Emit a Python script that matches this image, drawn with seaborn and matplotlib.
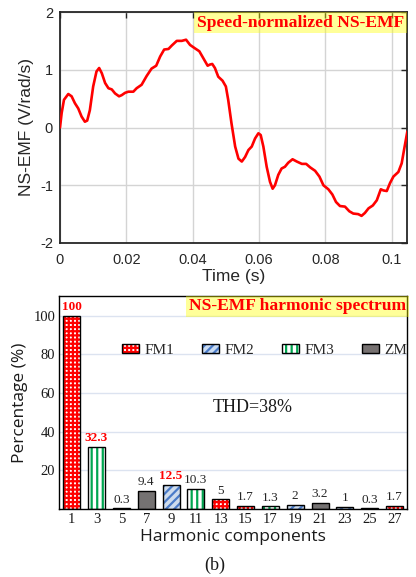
import numpy as np
import pandas as pd
import matplotlib
matplotlib.use("Agg")
import matplotlib.pyplot as plt
import seaborn as sns
from matplotlib.patches import Patch
from matplotlib.legend_handler import HandlerTuple
from matplotlib.ticker import FuncFormatter

# ---------------- data ----------------
time_s = [0.0, 0.0005, 0.0012, 0.0025, 0.0035, 0.0045, 0.0055, 0.0065, 0.0075, 0.0082,
          0.009, 0.010, 0.011, 0.0118, 0.0126, 0.0136, 0.0146, 0.0156, 0.0166, 0.0178,
          0.0186, 0.0196, 0.0206, 0.0221, 0.0231, 0.0246, 0.0261, 0.0276, 0.029, 0.0302,
          0.0314, 0.0327, 0.0337, 0.0352, 0.0367, 0.038, 0.0392, 0.0407, 0.042, 0.0432,
          0.0445, 0.0452, 0.0459, 0.0467, 0.0477, 0.049, 0.050, 0.0507, 0.0517, 0.0528,
          0.0538, 0.0548, 0.0558, 0.0568, 0.0578, 0.0588, 0.0598, 0.0605, 0.0613, 0.0623,
          0.0633, 0.0641, 0.0648, 0.0658, 0.0668, 0.0678, 0.0688, 0.0701, 0.0714, 0.0729,
          0.0742, 0.0754, 0.0769, 0.0782, 0.0794, 0.0809, 0.0821, 0.0832, 0.0844, 0.0859,
          0.0872, 0.0884, 0.0899, 0.0909, 0.0919, 0.093, 0.0943, 0.0955, 0.0967, 0.0975,
          0.0985, 0.0995, 0.1005, 0.102, 0.103, 0.1037, 0.1047]
ns_emf = [0.0, 0.25, 0.48, 0.58, 0.54, 0.42, 0.33, 0.19, 0.10, 0.12,
          0.30, 0.71, 0.97, 1.03, 0.94, 0.77, 0.68, 0.66, 0.59, 0.54,
          0.56, 0.60, 0.62, 0.62, 0.68, 0.74, 0.89, 1.02, 1.07, 1.23,
          1.35, 1.36, 1.42, 1.50, 1.50, 1.52, 1.43, 1.37, 1.32, 1.20,
          1.07, 1.09, 1.10, 1.03, 0.88, 0.81, 0.71, 0.48, 0.07, -0.33,
          -0.54, -0.59, -0.51, -0.39, -0.33, -0.19, -0.10, -0.13, -0.33, -0.68,
          -0.94, -1.06, -1.00, -0.82, -0.71, -0.68, -0.61, -0.55, -0.59, -0.63,
          -0.63, -0.69, -0.75, -0.85, -1.00, -1.07, -1.16, -1.29, -1.36, -1.37,
          -1.45, -1.49, -1.50, -1.53, -1.48, -1.40, -1.35, -1.26, -1.07, -1.09,
          -1.10, -0.96, -0.85, -0.77, -0.62, -0.39, -0.07]

harmonics = ["1", "3", "5", "7", "9", "11", "13", "15", "17", "19", "21", "23", "25", "27"]
percent = [100, 32.3, 0.3, 9.4, 12.5, 10.3, 5, 1.7, 1.3, 2, 3.2, 1, 0.3, 1.7]
value_labels = ["100", "32.3", "0.3", "9.4", "12.5", "10.3", "5", "1.7", "1.3", "2", "3.2", "1", "0.3", "1.7"]
mode = ["FM1", "FM3", "FM2", "ZM", "FM2", "FM3", "FM1", "FM1", "FM3", "FM2", "ZM", "FM2", "FM3", "FM1"]
highlight = ["100", "32.3", "12.5"]
mode_order = ["FM1", "FM2", "FM3", "ZM"]
face_colors = {"FM1": "#FFFFFF", "FM2": "#C9DBF2", "FM3": "#FFFFFF", "ZM": "#767171"}
hatch_colors = {"FM1": "#FF0000", "FM2": "#4A7BC8", "FM3": "#00A650", "ZM": "#767171"}
hatches = {"FM1": "++++", "FM2": "////", "FM3": "|||", "ZM": ""}

# ---------------- style ----------------
sns.set_style("white")
plt.rcParams["axes.unicode_minus"] = False
plt.rcParams["hatch.linewidth"] = 1.6
plt.rcParams["font.family"] = ["Liberation Sans", "DejaVu Sans"]

fig = plt.figure(figsize=(4.16, 5.77), dpi=100)

# ---------------- top panel ----------------
ax1 = fig.add_axes([60 / 416, 1 - 243 / 577, 347 / 416, 231 / 577])
sns.lineplot(x=time_s, y=ns_emf, color="#FF0000", linewidth=1.9, ax=ax1, zorder=3)
ax1.set_xlim(0, 0.1046)
ax1.set_ylim(-2, 2)
ax1.set_xticks([0, 0.02, 0.04, 0.06, 0.08, 0.1])
ax1.set_yticks([-2, -1, 0, 1, 2])
ax1.xaxis.set_major_formatter(FuncFormatter(lambda v, p: "%g" % round(v, 4)))
ax1.grid(True, color="#D4D4D4", linewidth=1.0)
for s in ax1.spines.values():
    s.set_color("#262626")
    s.set_linewidth(1.3)
ax1.tick_params(direction="in", length=4, width=1, top=True, right=True,
                labelsize=10.5, colors="#262626", pad=5)
ax1.tick_params(axis="x", pad=7)
ax1.set_xlabel("Time (s)", fontsize=12.5, color="#262626", labelpad=2)
ax1.set_ylabel("NS-EMF (V/rad/s)", fontsize=12.5, color="#262626", labelpad=4)
ax1.text(0.9914, 0.989, "Speed-normalized NS-EMF", transform=ax1.transAxes,
         ha="right", va="top", color="#FF0000", fontsize=12.6, fontweight="bold",
         family=["Liberation Serif", "DejaVu Serif"], zorder=5,
         bbox=dict(boxstyle="square,pad=0.15", facecolor=(1, 1, 0, 0.4), edgecolor="none"))

# ---------------- bottom panel ----------------
ax2 = fig.add_axes([59.3 / 416, 1 - 509 / 577, 347.7 / 416, 213.3 / 577])
df = pd.DataFrame({"harmonic": harmonics, "percent": percent, "mode": mode})
sns.barplot(data=df, x="harmonic", y="percent", hue="mode", hue_order=mode_order,
            order=harmonics, dodge=False, width=0.68, palette=face_colors,
            legend=False, ax=ax2, zorder=2)
for cont, m in zip(ax2.containers, mode_order):
    for bar in cont:
        bar.set_hatch(hatches[m])
        bar.set_edgecolor(hatch_colors[m])
        bar.set_linewidth(0)
sns.barplot(data=df, x="harmonic", y="percent", order=harmonics, width=0.68,
            fill=False, color="black", linewidth=1.0, ax=ax2, zorder=3)
outline = ax2.containers[-1]
for b in outline:
    b.set_edgecolor("black")
texts = ax2.bar_label(outline, labels=value_labels, padding=2, fontsize=9.5,
                      family=["Liberation Serif", "DejaVu Serif"], color="#262626")
for t in texts:
    if t.get_text() in highlight:
        t.set_color("#FF0000")
        t.set_fontweight("bold")

ax2.set_ylim(0, 110.3)
ax2.set_xlim(-0.5, 13.5)
ax2.set_yticks([20, 40, 60, 80, 100])
ax2.grid(True, axis="y", color="#DCE3F0", linewidth=1.0, zorder=0)
ax2.set_axisbelow(True)
for s in ax2.spines.values():
    s.set_color("black")
    s.set_linewidth(1.0)
ax2.tick_params(length=0, labelsize=10.5, pad=3, colors="#1a1a1a")
for lab in ax2.get_xticklabels() + ax2.get_yticklabels():
    lab.set_family(["Liberation Serif", "DejaVu Serif"])
ax2.set_xlabel("Harmonic components", fontsize=12.5, family=["Open Sans", "DejaVu Sans"],
               color="#1a1a1a", labelpad=2)
ax2.set_ylabel("Percentage (%)", fontsize=12.5, family=["Open Sans", "DejaVu Sans"],
               color="#1a1a1a", labelpad=4)

handles = []
for m in mode_order:
    h1 = Patch(facecolor=face_colors[m], edgecolor=hatch_colors[m], hatch=hatches[m], linewidth=0)
    h2 = Patch(facecolor="none", edgecolor="black", linewidth=1.0)
    handles.append((h1, h2))
ax2.legend(handles, mode_order, handler_map={tuple: HandlerTuple(ndivide=1)},
           loc="center left", bbox_to_anchor=(0.18, 0.745), ncol=4, frameon=False,
           borderpad=0, borderaxespad=0, handlelength=1.1, handleheight=0.5,
           handletextpad=0.35, columnspacing=1.85,
           prop={"family": ["Liberation Serif", "DejaVu Serif"], "size": 11})

ax2.text(0.442, 0.478, "THD=38%", transform=ax2.transAxes, ha="left", va="center",
         fontsize=13, family=["Liberation Serif", "DejaVu Serif"], color="#1a1a1a")
ax2.text(0.997, 0.987, "NS-EMF harmonic spectrum", transform=ax2.transAxes,
         ha="right", va="top", color="#FF0000", fontsize=12.6, fontweight="bold",
         family=["Liberation Serif", "DejaVu Serif"], zorder=5,
         bbox=dict(boxstyle="square,pad=0.15", facecolor=(1, 1, 0, 0.4), edgecolor="none"))

fig.text(0.517, 0.021, "(b)", ha="center", va="center", fontsize=13,
         family=["Liberation Serif", "DejaVu Serif"], color="#1a1a1a")

fig.savefig("out.png", dpi=100)
